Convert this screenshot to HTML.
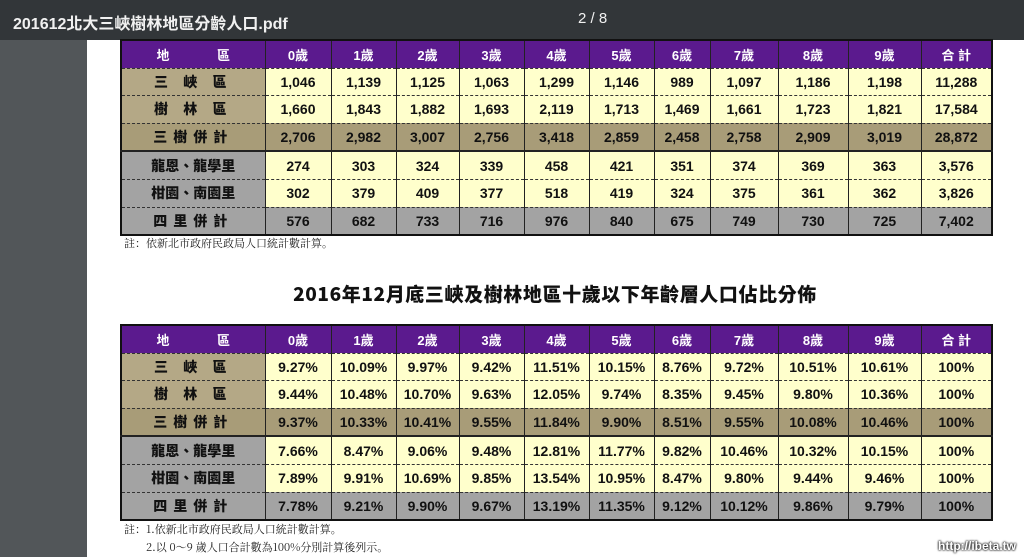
<!DOCTYPE html>
<html><head><meta charset="utf-8"><style>
body{margin:0;width:1024px;height:557px;overflow:hidden;background:#fff;position:relative;font-family:"Liberation Sans","Noto Sans CJK TC",sans-serif}
#bar{position:absolute;left:0;top:0;width:1024px;height:40px;background:#323639;color:#f1f1f1;font-size:16px;font-weight:bold}
#bar .t{position:absolute;left:13px;top:10px}
#bar .p{position:absolute;left:578px;top:10px;font-size:15px;font-weight:normal}
#side{position:absolute;left:0;top:40px;width:87px;height:517px;background:#525659}
table{position:absolute;left:120px;border-collapse:collapse;table-layout:fixed;border:2px solid #111}
td{border-left:1.5px solid #222;border-right:1.5px solid #222;border-top:1.5px dashed #333;border-bottom:1.5px dashed #333;text-align:center;font-weight:bold;font-size:14px;color:#111;padding:0;height:26.6px;background:#ffffcc}
tr.h td{background:#5b1a8e;color:#fff;font-size:13px;border-top:1.5px solid #222}
td.r{background:#b4a886;letter-spacing:6px;font-family:"Noto Sans CJK TC",sans-serif;font-weight:900}
tr.s td{background:#a89c78}
tr.g td.r{background:#a3a3a3;letter-spacing:0}
tr.q td{background:#a3a3a3}
tr.b td{border-top:2.5px solid #222}
.note{position:absolute;left:124px;font-size:11px;color:#222;font-family:"Noto Serif CJK SC",serif}
#title{position:absolute;left:0;width:1110px;text-align:center;top:280px;font-size:19px;letter-spacing:0.6px;font-weight:900;font-family:"Noto Sans CJK TC",sans-serif;color:#111}
.wm{position:absolute;right:8px;bottom:4px;font-size:12px;color:#fff;text-shadow:0 0 2px #000,0 0 2px #000;font-weight:bold}
</style></head><body>
<div id="bar"><span class="t">201612北大三峽樹林地區分齡人口.pdf</span><span class="p">2 / 8</span></div>
<div id="side"></div>
<table style="top:39px">
<colgroup><col style="width:144px"><col style="width:66px"><col style="width:65px"><col style="width:63px"><col style="width:65px"><col style="width:65px"><col style="width:65px"><col style="width:56px"><col style="width:68px"><col style="width:70px"><col style="width:73px"><col style="width:71px"></colgroup>
<tr class="h"><td style="word-spacing:44px">地 區</td><td>0歲</td><td>1歲</td><td>2歲</td><td>3歲</td><td>4歲</td><td>5歲</td><td>6歲</td><td>7歲</td><td>8歲</td><td>9歲</td><td>合 計</td></tr>
<tr><td class="r">三 峽 區</td><td>1,046</td><td>1,139</td><td>1,125</td><td>1,063</td><td>1,299</td><td>1,146</td><td>989</td><td>1,097</td><td>1,186</td><td>1,198</td><td>11,288</td></tr>
<tr><td class="r">樹 林 區</td><td>1,660</td><td>1,843</td><td>1,882</td><td>1,693</td><td>2,119</td><td>1,713</td><td>1,469</td><td>1,661</td><td>1,723</td><td>1,821</td><td>17,584</td></tr>
<tr class="s"><td class="r">三樹併計</td><td>2,706</td><td>2,982</td><td>3,007</td><td>2,756</td><td>3,418</td><td>2,859</td><td>2,458</td><td>2,758</td><td>2,909</td><td>3,019</td><td>28,872</td></tr>
<tr class="g b"><td class="r">龍恩、龍學里</td><td>274</td><td>303</td><td>324</td><td>339</td><td>458</td><td>421</td><td>351</td><td>374</td><td>369</td><td>363</td><td>3,576</td></tr>
<tr class="g"><td class="r">柑園、南園里</td><td>302</td><td>379</td><td>409</td><td>377</td><td>518</td><td>419</td><td>324</td><td>375</td><td>361</td><td>362</td><td>3,826</td></tr>
<tr class="q"><td class="r">四里併計</td><td>576</td><td>682</td><td>733</td><td>716</td><td>976</td><td>840</td><td>675</td><td>749</td><td>730</td><td>725</td><td>7,402</td></tr>
</table>
<div class="note" style="top:235px">註：依新北市政府民政局人口統計數計算。</div>
<div id="title">2016年12月底三峽及樹林地區十歲以下年齡層人口佔比分佈</div>
<table style="top:324px">
<colgroup><col style="width:144px"><col style="width:66px"><col style="width:65px"><col style="width:63px"><col style="width:65px"><col style="width:65px"><col style="width:65px"><col style="width:56px"><col style="width:68px"><col style="width:70px"><col style="width:73px"><col style="width:71px"></colgroup>
<tr class="h"><td style="word-spacing:44px">地 區</td><td>0歲</td><td>1歲</td><td>2歲</td><td>3歲</td><td>4歲</td><td>5歲</td><td>6歲</td><td>7歲</td><td>8歲</td><td>9歲</td><td>合 計</td></tr>
<tr><td class="r">三 峽 區</td><td>9.27%</td><td>10.09%</td><td>9.97%</td><td>9.42%</td><td>11.51%</td><td>10.15%</td><td>8.76%</td><td>9.72%</td><td>10.51%</td><td>10.61%</td><td>100%</td></tr>
<tr><td class="r">樹 林 區</td><td>9.44%</td><td>10.48%</td><td>10.70%</td><td>9.63%</td><td>12.05%</td><td>9.74%</td><td>8.35%</td><td>9.45%</td><td>9.80%</td><td>10.36%</td><td>100%</td></tr>
<tr class="s"><td class="r">三樹併計</td><td>9.37%</td><td>10.33%</td><td>10.41%</td><td>9.55%</td><td>11.84%</td><td>9.90%</td><td>8.51%</td><td>9.55%</td><td>10.08%</td><td>10.46%</td><td>100%</td></tr>
<tr class="g b"><td class="r">龍恩、龍學里</td><td>7.66%</td><td>8.47%</td><td>9.06%</td><td>9.48%</td><td>12.81%</td><td>11.77%</td><td>9.82%</td><td>10.46%</td><td>10.32%</td><td>10.15%</td><td>100%</td></tr>
<tr class="g"><td class="r">柑園、南園里</td><td>7.89%</td><td>9.91%</td><td>10.69%</td><td>9.85%</td><td>13.54%</td><td>10.95%</td><td>8.47%</td><td>9.80%</td><td>9.44%</td><td>9.46%</td><td>100%</td></tr>
<tr class="q"><td class="r">四里併計</td><td>7.78%</td><td>9.21%</td><td>9.90%</td><td>9.67%</td><td>13.19%</td><td>11.35%</td><td>9.12%</td><td>10.12%</td><td>9.86%</td><td>9.79%</td><td>100%</td></tr>
</table>
<div class="note" style="top:521px">註：1.依新北市政府民政局人口統計數計算。</div>
<div class="note" style="top:539px;left:146px">2.以 0～9 歲人口合計數為100%分別計算後列示。</div>
<div class="wm">http://ibeta.tw</div>
</body></html>
